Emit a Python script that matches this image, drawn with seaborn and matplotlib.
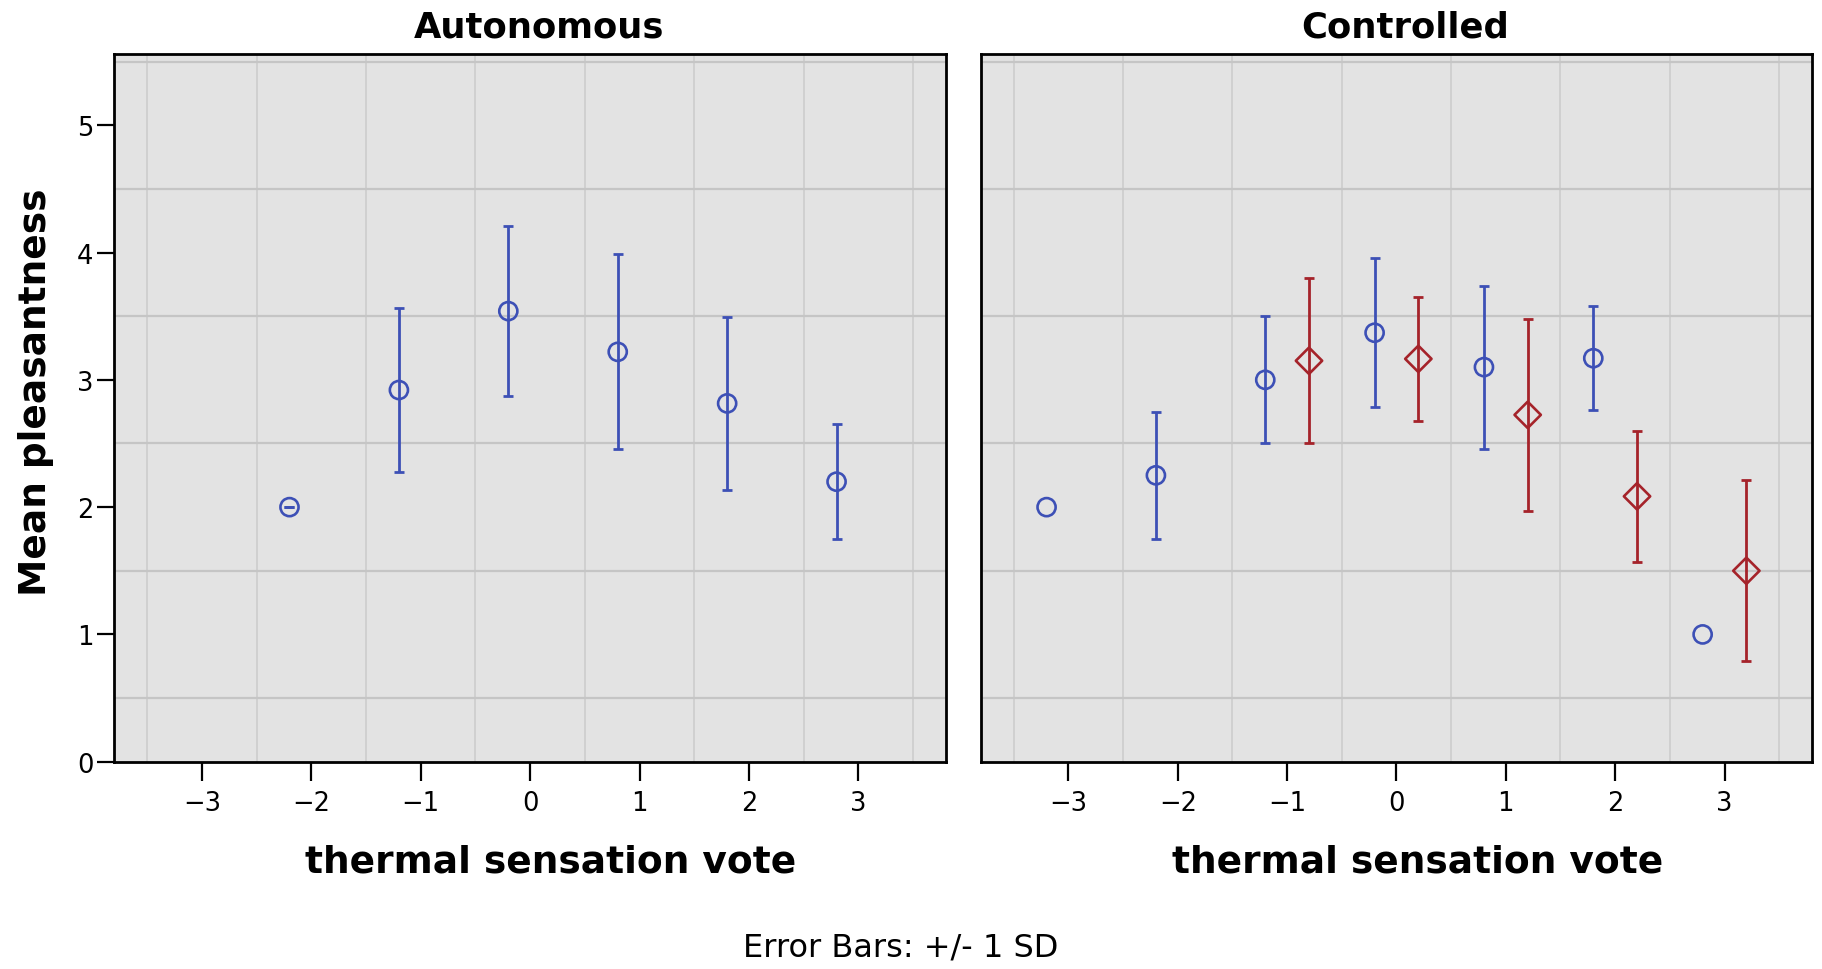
import numpy as np
import pandas as pd
import matplotlib
matplotlib.use("Agg")
import matplotlib.pyplot as plt
import seaborn as sns

# ---------------- data ----------------
panels = ["Autonomous", "Controlled"]

# Autonomous panel, group 1 (blue circles)
auto_g1_votes = [-2, -1, 0, 1, 2, 3]
auto_g1_mean = [2.00, 2.92, 3.54, 3.22, 2.815, 2.20]
auto_g1_sd = [0.00, 0.645, 0.67, 0.765, 0.68, 0.45]

# Controlled panel, group 1 (blue circles); NaN = single case, no SD
ctrl_g1_votes = [-3, -2, -1, 0, 1, 2, 3]
ctrl_g1_mean = [2.00, 2.25, 3.00, 3.37, 3.10, 3.17, 1.00]
ctrl_g1_sd = [np.nan, 0.50, 0.50, 0.585, 0.64, 0.41, np.nan]

# Controlled panel, group 2 (red diamonds)
ctrl_g2_votes = [-1, 0, 1, 2, 3]
ctrl_g2_mean = [3.15, 3.165, 2.725, 2.085, 1.50]
ctrl_g2_sd = [0.65, 0.485, 0.755, 0.515, 0.71]

x_ticks = [-3, -2, -1, 0, 1, 2, 3]
y_ticks = [0, 1, 2, 3, 4, 5]
x_label = "thermal sensation vote"
y_label = "Mean pleasantness"
footer = "Error Bars: +/- 1 SD"

rows = []
for v, m, s in zip(auto_g1_votes, auto_g1_mean, auto_g1_sd):
    rows.append(("Autonomous", "g1", v, m, s))
for v, m, s in zip(ctrl_g1_votes, ctrl_g1_mean, ctrl_g1_sd):
    rows.append(("Controlled", "g1", v, m, s))
for v, m, s in zip(ctrl_g2_votes, ctrl_g2_mean, ctrl_g2_sd):
    rows.append(("Controlled", "g2", v, m, s))
df = pd.DataFrame(rows, columns=["panel", "group", "vote", "mean", "sd"])

# ---------------- style ----------------
sns.set_theme(style="white")
plt.rcParams["font.family"] = ["DejaVu Sans"]
plt.rcParams["axes.unicode_minus"] = True
plt.rcParams["text.color"] = "black"
plt.rcParams["axes.labelcolor"] = "black"
plt.rcParams["xtick.color"] = "black"
plt.rcParams["ytick.color"] = "black"

colors = {"g1": "#3d50b6", "g2": "#a5232a"}
markers = {"g1": "o", "g2": "D"}
sizes = {"g1": 170, "g2": 180}
dodge = {"g1": -0.2, "g2": 0.2}

fig = plt.figure(figsize=(18.22, 9.70), dpi=100)
ax_pos = [[0.0628, 0.2137, 0.4564, 0.7296], [0.5384, 0.2137, 0.4561, 0.7296]]

for i, panel in enumerate(panels):
    ax = fig.add_axes(ax_pos[i])
    ax.set_facecolor("#e3e3e3")
    sub = df[df["panel"] == panel]
    for grp, gdf in sub.groupby("group"):
        xs = gdf["vote"] + dodge[grp]
        eb = gdf[gdf["sd"].notna()]
        ax.errorbar(eb["vote"] + dodge[grp], eb["mean"], yerr=eb["sd"], fmt="none",
                    ecolor=colors[grp], elinewidth=2.0, capsize=3.8, capthick=2.0,
                    zorder=3)
        sns.scatterplot(x=xs, y=gdf["mean"], marker=markers[grp], s=sizes[grp],
                        color=colors[grp], facecolor="none", edgecolor=colors[grp],
                        linewidth=1.9, ax=ax, zorder=4, legend=False)
    ax.set_xlim(-3.8, 3.8)
    ax.set_ylim(0, 5.56)
    ax.set_xticks(x_ticks)
    ax.set_xticks(np.arange(-3.5, 3.6, 1.0), minor=True)
    ax.set_yticks(y_ticks)
    ax.set_yticks(np.arange(0.5, 5.6, 1.0), minor=True)
    ax.grid(False)
    ax.yaxis.grid(True, which="minor", color="#c5c5c5", linewidth=1.6, zorder=0)
    ax.xaxis.grid(True, which="minor", color="#cdcdcd", linewidth=1.2, zorder=0)
    ax.set_axisbelow(True)
    for sp in ax.spines.values():
        sp.set_color("black")
        sp.set_linewidth(2.0)
        sp.set_visible(True)
    ax.tick_params(axis="both", which="minor", length=0)
    ax.tick_params(axis="x", which="major", direction="out", length=13.7, width=1.6,
                   pad=7, labelsize=18.5, colors="black", bottom=True)
    if i == 0:
        ax.tick_params(axis="y", which="major", direction="out", length=12.2, width=1.6,
                       pad=3, labelsize=18.5, colors="black", left=True)
        ax.set_ylabel(y_label, fontsize=27, fontweight="bold", color="black")
        ax.yaxis.set_label_coords(-0.0728, 0.524)
    else:
        ax.tick_params(axis="y", which="major", left=False, labelleft=False)
        ax.set_ylabel("")
    ax.set_xlabel(x_label, fontsize=27, fontweight="bold", color="black")
    ax.xaxis.set_label_coords(0.525, -0.116)
    ax.set_title(panel, fontsize=25.5, fontweight="bold", pad=12.7, x=0.51, color="black")

fig.text(901 / 1822, 1 - 956.7 / 970, footer, ha="center", va="baseline", fontsize=23,
         color="black")

fig.savefig("out.png", dpi=100)
